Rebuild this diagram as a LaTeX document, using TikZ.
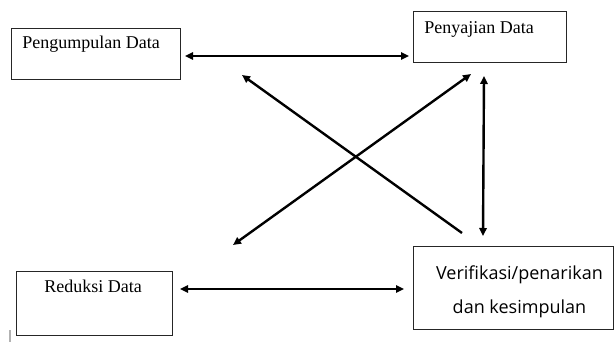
\documentclass[tikz,border=0pt]{standalone}
\usepackage{fontspec}
\setmainfont{Liberation Serif}
\newfontfamily\boxsans{Open Sans}
\usetikzlibrary{arrows.meta}
\begin{document}
\begin{tikzpicture}[x=0.75pt,y=-0.75pt,
  boxnode/.style={draw=black!85,line width=0.6pt,rectangle,inner sep=0pt},
  lbl/.style={inner sep=0pt,font=\fontsize{13.5}{16}\selectfont},
  arr/.style={line width=1.8pt,-{Triangle[length=6pt,width=5.5pt]}},
  darr/.style={line width=1.8pt,{Triangle[length=6pt,width=5.5pt]}-{Triangle[length=6pt,width=5.5pt]}}]
\useasboundingbox (0,0) rectangle (614,342);
% boxes
\node[boxnode,minimum width=126.75pt,minimum height=38.25pt] (peng) at (95.5,53.5) {};
\node[boxnode,minimum width=114.75pt,minimum height=38.25pt] (peny) at (489.5,36.5) {};
\node[boxnode,minimum width=117pt,minimum height=48pt] (redu) at (94,303) {};
\node[boxnode,minimum width=150pt,minimum height=62.25pt] (veri) at (513,288) {};
% labels
\node[lbl,anchor=base west] (tpeng) at (22,49) {Pengumpulan Data};
\node[lbl,anchor=base west] (tpeny) at (424,34) {Penyajian Data};
\node[lbl,anchor=base west] (tredu) at (44,292) {Reduksi Data};
\node[lbl,anchor=base,font=\boxsans\fontsize{13.5}{16}\selectfont] (tver1) at (519.5,279) {Verifikasi/penarikan};
\node[lbl,anchor=base,font=\boxsans\fontsize{13.5}{16}\selectfont] (tver2) at (519.5,313) {dan kesimpulan};
% connector end points
\coordinate (a1) at (185,56);
\coordinate (a2) at (409,56);
\coordinate (b1) at (180,289);
\coordinate (b2) at (404,289);
\coordinate (c1) at (484,76);
\coordinate (c2) at (483,236);
\coordinate (d1) at (233,245);
\coordinate (d2) at (471,74);
\coordinate (e1) at (462,233);
\coordinate (e2) at (242,75);
% connectors
\draw[darr] (a1) -- (a2);
\draw[darr] (b1) -- (b2);
\draw[darr] (c1) -- (c2);
\draw[darr] (d1) -- (d2);
\draw[arr] (e1) -- (e2);
% cursor mark
\coordinate (m1) at (10,330);
\coordinate (m2) at (10,342);
\draw[black!30,line width=1.5pt] (m1) -- (m2);
\end{tikzpicture}
\end{document}
